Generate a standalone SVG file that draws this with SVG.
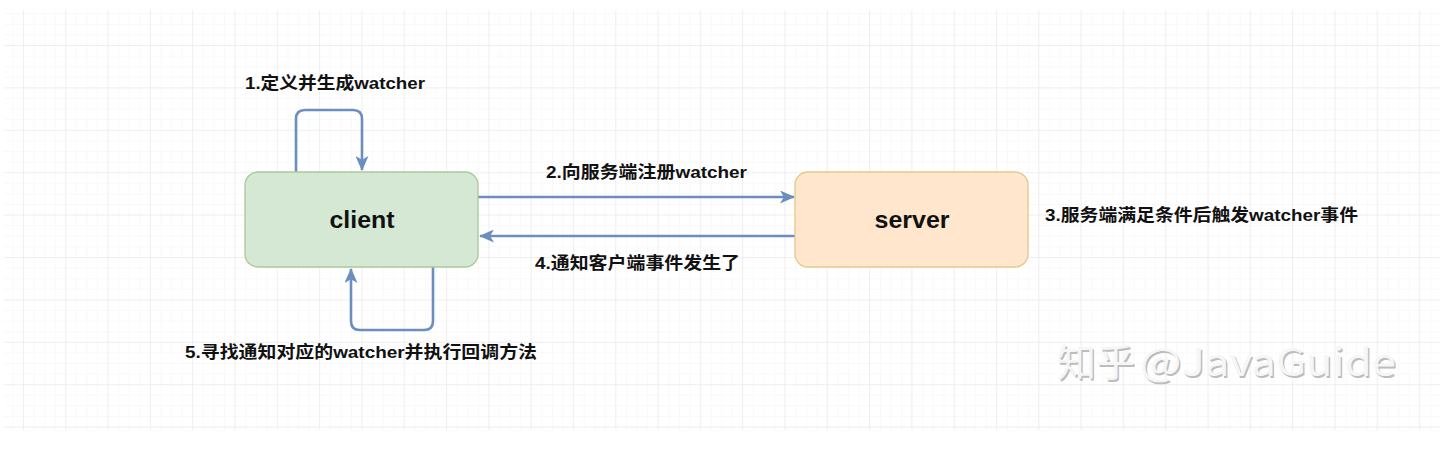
<svg xmlns="http://www.w3.org/2000/svg" width="1456" height="474" viewBox="0 0 1456 474">
<style>
.box-text{font-family:"Liberation Sans","Noto Sans CJK SC",sans-serif;font-weight:bold;font-size:24px;fill:#111;text-anchor:middle}
.lbl{font-family:"Liberation Sans","Noto Sans CJK SC",sans-serif;font-weight:bold;font-size:17px;fill:#111}
.edge{fill:none;stroke:#6c8ebf;stroke-width:2.6}
.wm{font-family:"Noto Sans CJK SC","Noto Sans",sans-serif;font-size:38px}
</style>
<defs>
<pattern id="minor" x="23" y="45" width="10.58" height="10.6" patternUnits="userSpaceOnUse">
<path d="M0 0H10.58M0 0V10.6" fill="none" stroke="#f3f3f3" stroke-width="1"/>
</pattern>
<pattern id="major" x="23" y="45" width="42.3" height="42.4" patternUnits="userSpaceOnUse">
<path d="M0 0H42.3M0 0V42.4" fill="none" stroke="#e6e6e6" stroke-width="1"/>
</pattern>
<marker id="arrow" viewBox="0 0 16 14" refX="15" refY="7" markerWidth="15" markerHeight="13" markerUnits="userSpaceOnUse" orient="auto">
<path d="M0 0L16 7L0 14L4 7Z" fill="#6c8ebf"/>
</marker>
</defs>
<rect width="1456" height="474" fill="#ffffff"/>
<g id="grid">
<rect x="4" y="10" width="1436" height="420" fill="url(#minor)"/>
<rect x="4" y="10" width="1436" height="420" fill="url(#major)"/>
</g>
<g id="connectors">
<path class="edge" d="M296 172V119Q296 110 305 110H353Q362 110 362 119V170" marker-end="url(#arrow)"/>
<path class="edge" d="M478 197H794" marker-end="url(#arrow)"/>
<path class="edge" d="M795 236H480" marker-end="url(#arrow)"/>
<path class="edge" d="M433 267V321Q433 330 424 330H360Q351 330 351 321V269" marker-end="url(#arrow)"/>
</g>
<g id="client">
<rect x="245" y="172" width="233" height="95" rx="13" fill="#d5e8d4" stroke="#a9c99a" stroke-width="1.3"/>
<text class="box-text" x="362" y="228" textLength="65" lengthAdjust="spacingAndGlyphs">client</text>
</g>
<g id="server">
<rect x="795" y="172" width="233" height="95" rx="13" fill="#ffe6cc" stroke="#e3c98a" stroke-width="1.3"/>
<text class="box-text" x="912" y="228" textLength="75" lengthAdjust="spacingAndGlyphs">server</text>
</g>
<g id="labels">
<text class="lbl" x="245" y="89" textLength="180" lengthAdjust="spacingAndGlyphs">1.定义并生成watcher</text>
<text class="lbl" x="546" y="178" textLength="201" lengthAdjust="spacingAndGlyphs">2.向服务端注册watcher</text>
<text class="lbl" x="1045" y="221" textLength="313" lengthAdjust="spacingAndGlyphs">3.服务端满足条件后触发watcher事件</text>
<text class="lbl" x="535" y="269" textLength="205" lengthAdjust="spacingAndGlyphs">4.通知客户端事件发生了</text>
<text class="lbl" x="185" y="358" textLength="352" lengthAdjust="spacingAndGlyphs">5.寻找通知对应的watcher并执行回调方法</text>
</g>
<g id="watermark">
<text class="wm" x="1058.5" y="377.5" fill="#bdbdbd" textLength="78" lengthAdjust="spacingAndGlyphs">知乎</text>
<text class="wm" x="1141.5" y="377.5" fill="#bdbdbd" textLength="256" lengthAdjust="spacingAndGlyphs">@JavaGuide</text>
<text class="wm" x="1057" y="376" fill="#f6f6f6" textLength="78" lengthAdjust="spacingAndGlyphs">知乎</text>
<text class="wm" x="1140" y="376" fill="#f6f6f6" textLength="256" lengthAdjust="spacingAndGlyphs">@JavaGuide</text>
</g>
</svg>
